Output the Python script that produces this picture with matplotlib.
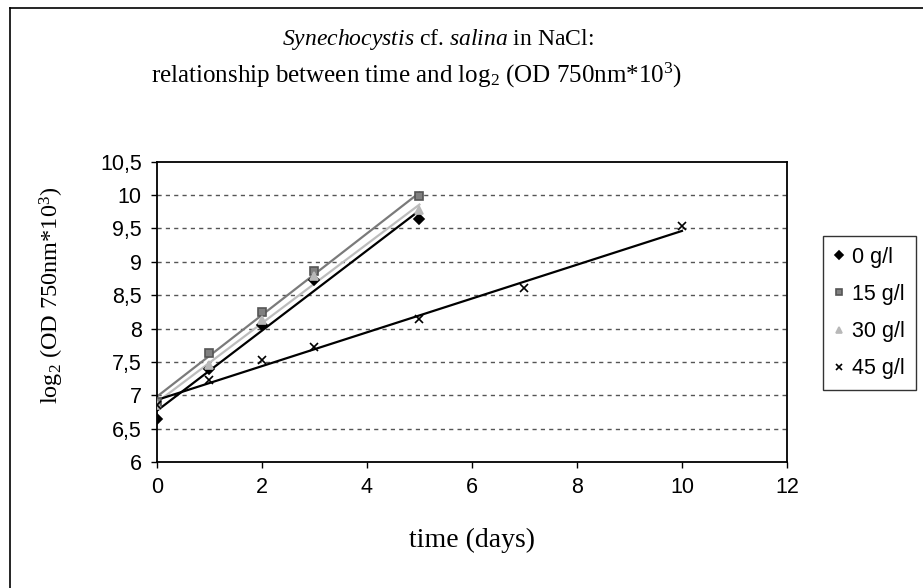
import numpy as np
import matplotlib
matplotlib.use("Agg")
import matplotlib.pyplot as plt
from matplotlib.lines import Line2D

# 数据
days_a = [0, 1, 2, 3, 5]
days_45 = [0, 1, 2, 3, 5, 7, 10]
od_0 = [6.64, 7.39, 8.05, 8.72, 9.64]
od_15 = [6.90, 7.63, 8.25, 8.86, 9.98]
od_30 = [6.85, 7.45, 8.13, 8.78, 9.78]
od_45 = [6.85, 7.23, 7.53, 7.72, 8.14, 8.60, 9.53]

labels = ["0 g/l", "15 g/l", "30 g/l", "45 g/l"]
y_ticks = [6, 6.5, 7, 7.5, 8, 8.5, 9, 9.5, 10, 10.5]
y_ticklabels = ["6", "6,5", "7", "7,5", "8", "8,5", "9", "9,5", "10", "10,5"]
x_ticks = [0, 2, 4, 6, 8, 10, 12]

plt.rcParams["mathtext.fontset"] = "custom"
plt.rcParams["mathtext.rm"] = "Liberation Serif"
plt.rcParams["mathtext.it"] = "Liberation Serif:italic"

fig = plt.figure(figsize=(9.23, 5.88), dpi=100)
ax = fig.add_axes([0.170, 0.2143, 0.6826, 0.5107])

# 外框（左、上）
fig.add_artist(Line2D([0.011, 0.011], [0, 0.986], color="black", lw=1.2))
fig.add_artist(Line2D([0.011, 1], [0.986, 0.986], color="black", lw=1.2))

series = [
    (days_a, od_0, "D", "black", "black", "black", 5),
    (days_a, od_15, "s", "#808080", "#555555", "#7a7a7a", 6),
    (days_a, od_30, "^", "#b8b8b8", "#b8b8b8", "#bdbdbd", 6),
    (days_45, od_45, "x", "black", "black", "black", 6),
]

handles = []
for (x, y, m, fc, ec, lc, ms), lab in zip(series, labels):
    # 线性趋势线
    k, b = np.polyfit(x, y, 1)
    xs = np.array([min(x), max(x)])
    ax.plot(xs, k * xs + b, color=lc, lw=1.6, zorder=2)
    h, = ax.plot(x, y, linestyle="none", marker=m, markersize=ms,
                 markerfacecolor=fc, markeredgecolor=ec, markeredgewidth=1.2,
                 label=lab, zorder=3)
    handles.append(h)

ax.set_xlim(0, 12)
ax.set_ylim(6, 10.5)
ax.set_xticks(x_ticks)
ax.set_xticklabels([str(t) for t in x_ticks], family="Liberation Sans", fontsize=15.5)
ax.set_yticks(y_ticks)
ax.set_yticklabels(y_ticklabels, family="Liberation Sans", fontsize=15.5)
ax.tick_params(direction="out", length=4, width=1, pad=7)

for yv in y_ticks[1:-1]:
    ax.axhline(yv, color="#555555", lw=1, linestyle=(0, (3, 3)), zorder=1)

for s in ax.spines.values():
    s.set_linewidth(1.3)

ax.set_xlabel("time (days)", family="Liberation Serif", fontsize=20)
ax.xaxis.set_label_coords(0.5, -0.22)
ax.set_ylabel(r"log$_2$ (OD 750nm*10$^3$)", family="Liberation Serif", fontsize=17.5)
ax.yaxis.set_label_coords(-0.145, 0.556)

fig.text(438 / 923, 1 - 40 / 588, r"$\it{Synechocystis}$ cf. $\it{salina}$ in NaCl:",
         ha="center", va="center", family="Liberation Serif", fontsize=17)
fig.text(417 / 923, 1 - 75 / 588, r"relationship between time and log$_2$ (OD 750nm*10$^3$)",
         ha="center", va="center", family="Liberation Serif", fontsize=18)

leg = fig.legend(handles=handles, loc="upper left", bbox_to_anchor=(823 / 923, 1 - 236 / 588),
                 borderaxespad=0, frameon=True, fancybox=False, edgecolor="black",
                 handlelength=0.5, handletextpad=0.35, labelspacing=0.75, borderpad=0.5,
                 markerscale=0.8, prop={"family": "Liberation Sans", "size": 15.5})
leg.get_frame().set_linewidth(1)

plt.savefig("out.png", dpi=100)
